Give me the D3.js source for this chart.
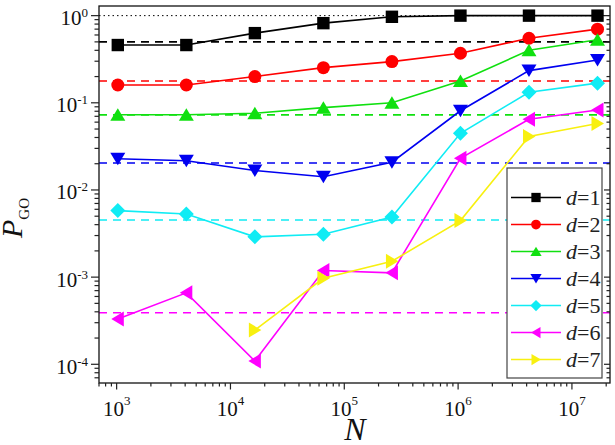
<!DOCTYPE html>
<html><head><meta charset="utf-8">
<script src="https://d3js.org/d3.v7.min.js"></script>
<style>body{margin:0;background:#fff}svg{display:block}</style>
</head><body>
<svg id="c" width="615" height="445"></svg>
<script>
const N = [1024, 4096, 16384, 65536, 262144, 1048576, 4194304, 16777216];
const d1 = [0.46, 0.46, 0.63, 0.82, 0.97, 1.0, 1.0, 1.0];
const d2 = [0.16, 0.16, 0.20, 0.253, 0.297, 0.37, 0.55, 0.70];
const d3v = [0.073, 0.073, 0.076, 0.088, 0.10, 0.178, 0.40, 0.53];
const d4 = [0.0228, 0.0216, 0.0167, 0.0142, 0.0208, 0.081, 0.234, 0.31];
const d5 = [0.0058, 0.0053, 0.0029, 0.0031, 0.0049, 0.0447, 0.132, 0.168];
const d6 = [3.3e-4, 6.6e-4, 1.09e-4, 1.19e-3, 1.12e-3, 0.0231, 0.0647, 0.0828];
const d7 = [null, null, 2.47e-4, 9.7e-4, 1.52e-3, 4.45e-3, 0.041, 0.058];
const refLevels = [0.5, 0.178, 0.0726, 0.0204, 0.00453, 3.9e-4];
const dottedLevel = 1.0;
const seriesNames = ["1", "2", "3", "4", "5", "6", "7"];
const xTickExps = [3, 4, 5, 6, 7];
const yTickExps = [0, -1, -2, -3, -4];

const colors = ["#000000", "#ff0000", "#10e010", "#0000f0", "#10ecf4", "#ff00ff", "#f8f010"];
const shapes = ["square", "circle", "up", "down", "diamond", "left", "right"];
const allSeries = [d1, d2, d3v, d4, d5, d6, d7];

const L = 99, R = 610, T = 6, B = 383;
const x = d3.scaleLog().domain([700, 2.16e7]).range([L, R]);
const y = d3.scaleLog().domain([6.1e-5, 1.29]).range([B, T]);
const svg = d3.select("#c");
const serif = "'Liberation Serif','Times New Roman',Times,serif";

function markerPath(shape, k) {
  const p = d3.path();
  if (shape === "square") { p.rect(-6.2*k, -6.2*k, 12.4*k, 12.4*k); }
  else if (shape === "circle") { p.arc(0, 0, 6.5*k, 0, 2*Math.PI); p.closePath(); }
  else if (shape === "up") { p.moveTo(0, -6.5*k); p.lineTo(7.5*k, 6*k); p.lineTo(-7.5*k, 6*k); p.closePath(); }
  else if (shape === "down") { p.moveTo(0, 6.5*k); p.lineTo(7.5*k, -6*k); p.lineTo(-7.5*k, -6*k); p.closePath(); }
  else if (shape === "diamond") { p.moveTo(0, -7.5*k); p.lineTo(7.5*k, 0); p.lineTo(0, 7.5*k); p.lineTo(-7.5*k, 0); p.closePath(); }
  else if (shape === "left") { p.moveTo(-6.5*k, 0); p.lineTo(6*k, -7.5*k); p.lineTo(6*k, 7.5*k); p.closePath(); }
  else if (shape === "right") { p.moveTo(6.5*k, 0); p.lineTo(-6*k, -7.5*k); p.lineTo(-6*k, 7.5*k); p.closePath(); }
  return p.toString();
}

svg.append("defs").append("clipPath").attr("id", "clip")
  .append("rect").attr("x", L).attr("y", T).attr("width", R - L).attr("height", B - T);

const plot = svg.append("g").attr("clip-path", "url(#clip)");

plot.append("line").attr("x1", L).attr("x2", R)
  .attr("y1", y(dottedLevel)).attr("y2", y(dottedLevel))
  .attr("stroke", "#000").attr("stroke-width", 1).attr("stroke-dasharray", "1.5,3");

refLevels.forEach((v, i) => {
  plot.append("line").attr("x1", L).attr("x2", R)
    .attr("y1", y(v)).attr("y2", y(v))
    .attr("stroke", colors[i]).attr("stroke-width", 1.6).attr("stroke-dasharray", "8,6");
});

const line = d3.line().defined(d => d[1] != null).x(d => x(d[0])).y(d => y(d[1]));
allSeries.forEach((vals, i) => {
  const pts = N.map((n, j) => [n, vals[j]]);
  plot.append("path").attr("d", line(pts)).attr("fill", "none")
    .attr("stroke", colors[i]).attr("stroke-width", 1.6);
  plot.selectAll(null).data(pts.filter(d => d[1] != null)).enter()
    .append("path").attr("d", markerPath(shapes[i], 1))
    .attr("transform", d => `translate(${x(d[0])},${y(d[1])})`)
    .attr("fill", colors[i]);
});

svg.append("rect").attr("x", L).attr("y", T).attr("width", R - L).attr("height", B - T)
  .attr("fill", "none").attr("stroke", "#111").attr("stroke-width", 1.3);

const tk = svg.append("g").attr("stroke", "#222").attr("stroke-width", 1.2);
function minorVals(lo, hi) {
  const out = [];
  for (let e = Math.floor(Math.log10(lo)); e <= Math.ceil(Math.log10(hi)); e++) {
    for (let k = 1; k <= 9; k++) {
      const v = k * Math.pow(10, e);
      if (v >= lo && v <= hi) out.push({v, major: k === 1});
    }
  }
  return out;
}
minorVals(...x.domain()).forEach(t => {
  const px = x(t.v);
  tk.append("line").attr("x1", px).attr("x2", px).attr("y1", B).attr("y2", B + (t.major ? 6.5 : 3.5));
});
minorVals(...y.domain()).forEach(t => {
  const py = y(t.v);
  tk.append("line").attr("x1", L).attr("x2", L - (t.major ? 8 : 4.5)).attr("y1", py).attr("y2", py);
  tk.append("line").attr("x1", R).attr("x2", R - (t.major ? 6 : 3.5)).attr("y1", py).attr("y2", py);
});

const lab = svg.append("g").attr("font-family", serif).attr("fill", "#111");
xTickExps.forEach(e => {
  const t = lab.append("text").attr("x", x(Math.pow(10, e))).attr("y", 415.5)
    .attr("text-anchor", "middle").attr("font-size", 21);
  t.append("tspan").text("10");
  t.append("tspan").attr("font-size", 13).attr("dy", -10.5).text(String(e));
});
yTickExps.forEach(e => {
  const t = lab.append("text").attr("x", 88).attr("y", y(Math.pow(10, e)) + 9.5)
    .attr("text-anchor", "end").attr("font-size", 21);
  t.append("tspan").text("10");
  t.append("tspan").attr("font-size", 13).attr("dy", -8).text(e === 0 ? "0" : "-" + Math.abs(e));
});

svg.append("text").attr("x", 355).attr("y", 440).attr("text-anchor", "middle")
  .attr("font-family", serif).attr("font-style", "italic").attr("font-size", 32).attr("fill", "#111").text("N");
const yl = svg.append("text").attr("transform", "translate(22,238) rotate(-90)")
  .attr("font-family", serif).attr("font-size", 30).attr("fill", "#111");
yl.append("tspan").attr("font-style", "italic").text("P");
yl.append("tspan").attr("font-size", 15).attr("dy", 7).text("GO");

const lg = svg.append("g");
lg.append("rect").attr("x", 507).attr("y", 168).attr("width", 95).attr("height", 210)
  .attr("fill", "#fff").attr("stroke", "#444").attr("stroke-width", 1.2);
seriesNames.forEach((nm, i) => {
  const cy = 197.5 + i * 27;
  lg.append("line").attr("x1", 511).attr("x2", 561).attr("y1", cy).attr("y2", cy)
    .attr("stroke", colors[i]).attr("stroke-width", 1.6);
  lg.append("path").attr("d", markerPath(shapes[i], 0.75))
    .attr("transform", `translate(536,${cy})`).attr("fill", colors[i]);
  const t = lg.append("text").attr("x", 566).attr("y", cy + 7.5)
    .attr("font-family", serif).attr("font-size", 22).attr("fill", "#222");
  t.append("tspan").attr("font-style", "italic").text("d");
  t.append("tspan").text("=" + nm);
});
</script>
</body></html>
